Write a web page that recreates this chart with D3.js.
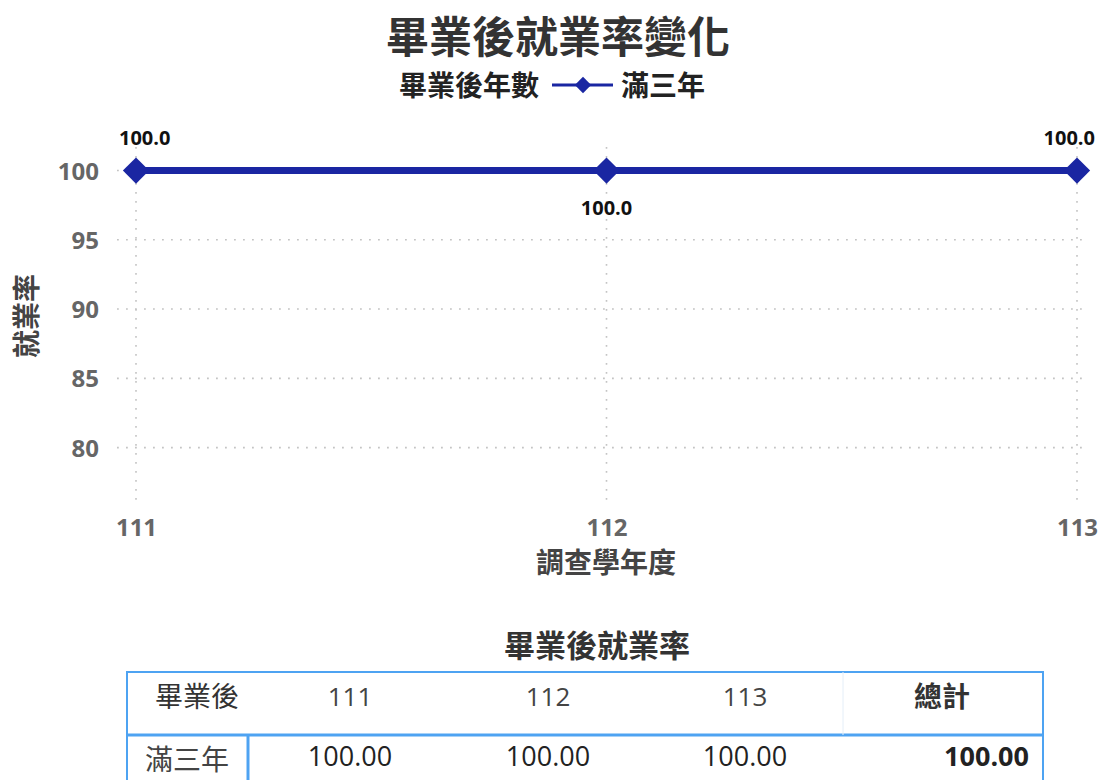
<!DOCTYPE html>
<meta charset="utf-8">
<style>
    body { margin: 0; background: #fff; }
    svg { display: block; }
    text { font-family: "Open Sans", "Noto Sans CJK TC", sans-serif; }
    .grid line { stroke: #c4c4c4; stroke-dasharray: 1.8 7.2; stroke-width: 1.6; }
</style>
<svg width="1101" height="780"></svg>
<script src="https://cdnjs.cloudflare.com/ajax/libs/d3/7.8.5/d3.min.js"></script>
<script>
    // data
    const years = ["111", "112", "113"];
    const seriesName = "滿三年";
    const rates = [100.0, 100.0, 100.0];
    const yTicks = [80, 85, 90, 95, 100];
    const labelPos = ["above", "below", "above"];
    const tableHeader = ["畢業後", "111", "112", "113", "總計"];
    const tableRow = ["滿三年", "100.00", "100.00", "100.00", "100.00"];

    const svg = d3.select("svg");
    const lineColor = "#1a26a2";
    const cjk = '"Noto Sans CJK TC", sans-serif';

    // plot area (grid box is a bit wider than the first/last category)
    const plotLeft = 117, plotRight = 1088, plotTop = 147, plotBottom = 503;

    const x = d3.scalePoint()
        .domain(years)
        .range([136, 1077]);

    const y = d3.scaleLinear()
        .domain([76, 101.7])
        .range([plotBottom, plotTop]);

    // title + legend
    svg.append("text")
        .attr("x", 558).attr("y", 53)
        .attr("text-anchor", "middle")
        .style("font-family", cjk)
        .style("font-size", "43px").style("font-weight", "bold")
        .attr("fill", "#333")
        .text("畢業後就業率變化");

    const legend = svg.append("g");
    legend.append("text")
        .attr("x", 399).attr("y", 96)
        .style("font-family", cjk)
        .style("font-size", "28px").style("font-weight", "bold")
        .attr("fill", "#222")
        .text("畢業後年數");
    legend.append("line")
        .attr("x1", 552).attr("x2", 613).attr("y1", 85).attr("y2", 85)
        .attr("stroke", lineColor).attr("stroke-width", 3);
    legend.append("path")
        .attr("d", d3.symbol(d3.symbolDiamond2, 170)())
        .attr("transform", "translate(583,85)")
        .attr("fill", lineColor);
    legend.append("text")
        .attr("x", 621).attr("y", 96)
        .style("font-family", cjk)
        .style("font-size", "28px").style("font-weight", "bold")
        .attr("fill", "#222")
        .text(seriesName);

    // grid
    const grid = svg.append("g").attr("class", "grid");
    grid.selectAll(".h").data(yTicks).enter().append("line")
        .attr("x1", plotLeft).attr("x2", plotRight)
        .attr("y1", d => y(d)).attr("y2", d => y(d));
    grid.selectAll(".v").data(years).enter().append("line")
        .attr("x1", d => x(d)).attr("x2", d => x(d))
        .attr("y1", plotTop).attr("y2", plotBottom);

    // axes (labels only)
    const yAxis = svg.append("g")
        .attr("transform", "translate(" + (plotLeft - 18) + ",0)")
        .call(d3.axisLeft(y).tickValues(yTicks).tickSize(0).tickPadding(0));
    yAxis.select(".domain").remove();
    yAxis.selectAll("text")
        .attr("dy", "0.36em")
        .style("font-size", "24px").style("font-weight", "bold")
        .attr("fill", "#666");

    const xAxis = svg.append("g")
        .attr("transform", "translate(0," + (plotBottom + 24) + ")")
        .call(d3.axisBottom(x).tickSize(0).tickPadding(0));
    xAxis.select(".domain").remove();
    xAxis.selectAll("text")
        .attr("dy", "0.36em")
        .style("font-size", "24px").style("font-weight", "bold")
        .attr("fill", "#666");

    svg.append("text")
        .attr("x", 606).attr("y", 573)
        .attr("text-anchor", "middle")
        .style("font-family", cjk)
        .style("font-size", "28px").style("font-weight", "bold")
        .attr("fill", "#444")
        .text("調查學年度");

    svg.append("text")
        .attr("transform", "translate(37,316) rotate(-90)")
        .attr("text-anchor", "middle")
        .style("font-family", cjk)
        .style("font-size", "28px").style("font-weight", "bold")
        .attr("fill", "#444")
        .text("就業率");

    // series
    const pts = years.map((d, i) => ({ year: d, value: rates[i], pos: labelPos[i] }));
    svg.append("path")
        .datum(pts)
        .attr("fill", "none")
        .attr("stroke", lineColor)
        .attr("stroke-width", 7)
        .attr("d", d3.line().x(d => x(d.year)).y(d => y(d.value)));

    svg.selectAll(".marker").data(pts).enter().append("path")
        .attr("d", d3.symbol(d3.symbolDiamond2, 440)())
        .attr("transform", d => "translate(" + x(d.year) + "," + y(d.value) + ")")
        .attr("fill", lineColor);

    // value labels, kept inside the chart box
    svg.selectAll(".lbl").data(pts).enter().append("text")
        .attr("x", d => x(d.year))
        .attr("y", d => y(d.value) + (d.pos === "above" ? -26 : 44))
        .attr("text-anchor", "middle")
        .style("font-size", "20px").style("font-weight", "bold")
        .attr("fill", "#111")
        .text(d => d.value.toFixed(1))
        .each(function (d) {
            const w = this.getBBox().width;
            const cx = Math.max(119 + w / 2, Math.min(1095 - w / 2, x(d.year)));
            d3.select(this).attr("x", cx);
        });

    // table
    svg.append("text")
        .attr("x", 597).attr("y", 657)
        .attr("text-anchor", "middle")
        .style("font-family", cjk)
        .style("font-size", "31px").style("font-weight", "bold")
        .attr("fill", "#333")
        .text("畢業後就業率");

    const colEdges = [127, 248, 449, 646, 843, 1043];
    const colCenters = [197, 350, 548, 745, 942];
    const tTop = 672, tMid = 735, tBottom = 800;
    const blue = "#4ea3f2";

    const tbl = svg.append("g");
    tbl.append("rect")
        .attr("x", colEdges[0]).attr("y", tTop)
        .attr("width", colEdges[5] - colEdges[0]).attr("height", tBottom - tTop)
        .attr("fill", "none").attr("stroke", blue).attr("stroke-width", 2);
    tbl.append("line")
        .attr("x1", colEdges[0]).attr("x2", colEdges[5]).attr("y1", tMid).attr("y2", tMid)
        .attr("stroke", blue).attr("stroke-width", 3);
    tbl.append("line")
        .attr("x1", colEdges[1]).attr("x2", colEdges[1]).attr("y1", tMid).attr("y2", tBottom)
        .attr("stroke", blue).attr("stroke-width", 3);
    tbl.append("line")
        .attr("x1", colEdges[4]).attr("x2", colEdges[4]).attr("y1", tTop).attr("y2", tMid)
        .attr("stroke", "#e4eef8").attr("stroke-width", 1);

    tbl.selectAll(".hd").data(tableHeader).enter().append("text")
        .attr("x", (d, i) => colCenters[i])
        .attr("y", 697)
        .attr("dy", "0.36em")
        .attr("text-anchor", "middle")
        .style("font-family", (d, i) => i === 0 || i === 4 ? cjk : null)
        .style("font-size", (d, i) => i === 0 || i === 4 ? "28px" : "26px")
        .style("font-weight", (d, i) => i === 4 ? "bold" : "normal")
        .attr("fill", (d, i) => i === 0 || i === 4 ? "#333" : "#444")
        .text(d => d);

    tbl.selectAll(".rw").data(tableRow).enter().append("text")
        .attr("x", (d, i) => i === 4 ? 1029 : (i === 0 ? 187 : colCenters[i]))
        .attr("y", (d, i) => i === 0 ? 760 : 756)
        .attr("dy", "0.36em")
        .attr("text-anchor", (d, i) => i === 4 ? "end" : "middle")
        .style("font-family", (d, i) => i === 0 ? cjk : null)
        .style("font-size", (d, i) => i === 0 ? "28px" : "27px")
        .style("font-weight", (d, i) => i === 4 ? "bold" : "normal")
        .attr("fill", (d, i) => i === 0 ? "#444" : "#222")
        .text(d => d);
</script>
